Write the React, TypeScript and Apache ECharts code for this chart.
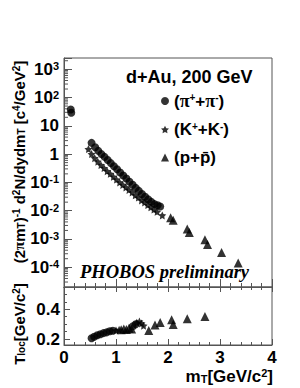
import React, { useEffect, useRef } from "react";
import * as echarts from "echarts";

// ---- data ----
// top panel: invariant yield vs m_T
const piSpectrum: [number, number][] = [
  [0.13, 38], [0.14, 29],
  [0.53, 2.5], [0.6, 1.75], [0.66, 1.3], [0.72, 1.0], [0.78, 0.8], [0.84, 0.62],
  [0.9, 0.48], [0.96, 0.37], [1.02, 0.29], [1.08, 0.225], [1.14, 0.175], [1.2, 0.137],
  [1.26, 0.106], [1.32, 0.083], [1.38, 0.064], [1.44, 0.05], [1.5, 0.039], [1.56, 0.031],
  [1.62, 0.025], [1.68, 0.0205], [1.74, 0.017], [1.8, 0.0155], [1.85, 0.014],
];
const kSpectrum: [number, number][] = [
  [0.47, 1.5], [0.53, 1.0], [0.59, 0.72], [0.65, 0.54], [0.71, 0.41], [0.77, 0.32],
  [0.83, 0.25], [0.89, 0.2], [0.95, 0.158], [1.01, 0.126], [1.07, 0.1], [1.13, 0.081],
  [1.19, 0.066], [1.25, 0.054], [1.31, 0.044], [1.37, 0.035], [1.43, 0.029], [1.49, 0.023],
  [1.55, 0.0195], [1.61, 0.0158], [1.67, 0.0132], [1.73, 0.011], [1.79, 0.0091], [1.89, 0.0068],
];
const pSpectrum: [number, number][] = [
  [2.05, 0.0056], [2.1, 0.0046], [2.37, 0.00225], [2.41, 0.0017],
  [2.71, 0.00094], [2.76, 0.00063], [3.03, 0.00033], [3.35, 0.00014],
];
// bottom panel: local slope T_loc vs m_T
const piLoc: [number, number][] = [
  [0.53, 0.205], [0.58, 0.215], [0.64, 0.225], [0.7, 0.232], [0.76, 0.24],
  [0.82, 0.245], [0.88, 0.252], [0.94, 0.256], [1.32, 0.285], [1.38, 0.3],
];
const kLoc: [number, number][] = [
  [1.0, 0.258], [1.06, 0.262], [1.4, 0.31], [1.45, 0.318], [1.49, 0.305], [1.53, 0.29],
];
const pLoc: [number, number][] = [
  [1.1, 0.262], [1.15, 0.268], [1.2, 0.265], [1.25, 0.272], [1.3, 0.268],
  [1.63, 0.258], [1.75, 0.295], [1.85, 0.312], [2.07, 0.33], [2.1, 0.298],
  [2.37, 0.337], [2.71, 0.352],
];
const seriesNames = ["pi", "K", "p"];
const legendLabels: Record<string, string> = {
  pi: "{t|(}{g|π}{s|+}{t|+}{g|π}{s|-}{t|)}",
  K: "{t|(K}{s|+}{t|+K}{s|-}{t|)}",
  p: "{t|(p+p\u0304)}",
};
const xTickLabels = ["0", "1", "2", "3", "4"];
const locTickLabels = [0.2, 0.4];

const SANS = "Liberation Sans";
const SERIF = "Liberation Serif";
const AX = "#555";
const STAR =
  "path://M0,-10 L2.94,-4.05 L9.51,-3.09 L4.76,1.55 L5.88,8.09 L0,5 L-5.88,8.09 L-4.76,1.55 L-9.51,-3.09 L-2.94,-4.05 Z";

const minorLogTicks: [number, number][] = [];
for (let e = -5; e <= 3; e++) {
  for (let k = 2; k <= 9; k++) {
    const v = k * Math.pow(10, e);
    if (v > 2e-5 && v < 2.5e3) minorLogTicks.push([0, v]);
  }
}

export default function App() {
  const ref = useRef<HTMLDivElement>(null);
  useEffect(() => {
    if (!ref.current) return;
    const chart = echarts.init(ref.current, undefined, { renderer: "svg" });
    const bold = { fontFamily: SANS, fontWeight: "bold" as const, color: "#000" };
    const supRich = {
      b: { ...bold, fontSize: 17 },
      s: { ...bold, fontSize: 11, verticalAlign: "top" as const },
    };
    const titleRich = {
      n: { ...bold, fontSize: 15 },
      sub: { ...bold, fontSize: 10, verticalAlign: "bottom" as const },
      sup: { ...bold, fontSize: 10, verticalAlign: "top" as const },
      g: { fontFamily: SERIF, fontWeight: "bold" as const, fontSize: 15, color: "#000" },
    };
    const xBase = {
      type: "value" as const,
      min: 0,
      max: 4,
      interval: 1,
      splitLine: { show: false },
      axisLine: { show: true, lineStyle: { color: AX, width: 1 } },
    };
    chart.setOption({
      animation: false,
      backgroundColor: "#fff",
      grid: [
        { left: 64, top: 58, width: 208, height: 229, show: true, borderColor: AX, borderWidth: 1 },
        { left: 64, top: 287, width: 208, height: 58, show: true, borderColor: AX, borderWidth: 1 },
      ],
      legend: {
        data: seriesNames,
        orient: "vertical",
        left: 161,
        top: 92,
        padding: 0,
        itemWidth: 8,
        itemHeight: 8,
        itemGap: 11,
        selectedMode: false,
        formatter: (name: string) => legendLabels[name],
        textStyle: {
          ...bold,
          fontSize: 17,
          rich: {
            t: { ...bold, fontSize: 17 },
            g: { fontFamily: SERIF, fontWeight: "bold", fontSize: 18, color: "#000" },
            s: { ...bold, fontSize: 10, verticalAlign: "top" },
          },
        },
      },
      xAxis: [
        {
          ...xBase,
          gridIndex: 0,
          axisTick: { show: true, inside: true, length: 8, lineStyle: { color: AX } },
          minorTick: { show: true, splitNumber: 5, length: 4, lineStyle: { color: AX } },
          axisLabel: { show: false },
        },
        {
          ...xBase,
          gridIndex: 1,
          axisTick: { show: true, inside: true, length: 6, lineStyle: { color: AX } },
          minorTick: { show: true, splitNumber: 5, length: 3, lineStyle: { color: AX } },
          axisLabel: {
            show: true,
            ...bold,
            fontSize: 17,
            margin: 4,
            formatter: (v: number) => xTickLabels[Math.round(v)] ?? "",
          },
        },
        {
          ...xBase,
          gridIndex: 1,
          position: "top",
          axisTick: { show: true, inside: true, length: 5, lineStyle: { color: AX } },
          minorTick: { show: true, splitNumber: 5, length: 3, lineStyle: { color: AX } },
          axisLabel: { show: false },
        },
      ],
      yAxis: [
        {
          gridIndex: 0,
          type: "log",
          min: 2e-5,
          max: 2.5e3,
          splitLine: { show: false },
          axisLine: { show: true, lineStyle: { color: AX } },
          axisTick: { show: true, inside: true, length: 8, lineStyle: { color: AX } },
          axisLabel: {
            ...bold,
            fontSize: 17,
            margin: 5,
            rich: supRich,
            formatter: (v: number) => {
              const l = Math.log10(v);
              const e = Math.round(l);
              if (Math.abs(l - e) > 1e-6) return "";
              if (e === 0) return "{b|1}";
              if (e === 1) return "{b|10}";
              return "{b|10}{s|" + e + "}";
            },
          },
        },
        {
          gridIndex: 1,
          type: "value",
          min: 0.16,
          max: 0.55,
          splitNumber: 2,
          splitLine: { show: false },
          axisLine: { show: true, lineStyle: { color: AX } },
          axisTick: { show: true, inside: true, length: 6, lineStyle: { color: AX } },
          minorTick: { show: true, splitNumber: 4, length: 3, lineStyle: { color: AX } },
          axisLabel: {
            ...bold,
            fontSize: 17,
            margin: 4,
            formatter: (v: number) =>
              locTickLabels.some((t) => Math.abs(t - v) < 1e-6) ? v.toFixed(1) : "",
          },
        },
      ],
      series: [
        { name: "pi", type: "scatter", xAxisIndex: 0, yAxisIndex: 0, data: piSpectrum, symbol: "circle", symbolSize: 8, itemStyle: { color: "#000" } },
        { name: "K", type: "scatter", xAxisIndex: 0, yAxisIndex: 0, data: kSpectrum, symbol: STAR, symbolSize: 8, itemStyle: { color: "#000" } },
        { name: "p", type: "scatter", xAxisIndex: 0, yAxisIndex: 0, data: pSpectrum, symbol: "triangle", symbolSize: 9, itemStyle: { color: "#000" } },
        { name: "pi", type: "scatter", xAxisIndex: 1, yAxisIndex: 1, data: piLoc, symbol: "circle", symbolSize: 8, itemStyle: { color: "#000" } },
        { name: "K", type: "scatter", xAxisIndex: 1, yAxisIndex: 1, data: kLoc, symbol: STAR, symbolSize: 8, itemStyle: { color: "#000" } },
        { name: "p", type: "scatter", xAxisIndex: 1, yAxisIndex: 1, data: pLoc, symbol: "triangle", symbolSize: 9, itemStyle: { color: "#000" } },
        {
          name: "minor",
          type: "custom",
          xAxisIndex: 0,
          yAxisIndex: 0,
          silent: true,
          clip: false,
          data: minorLogTicks,
          renderItem: (_p: any, api: any) => {
            const c = api.coord([0, api.value(1)]);
            return {
              type: "line",
              shape: { x1: c[0], y1: c[1], x2: c[0] + 4, y2: c[1] },
              style: { stroke: AX, lineWidth: 1 },
            };
          },
        },
      ],
      graphic: [
        {
          type: "text",
          x: 126,
          y: 77,
          style: { text: "d+Au, 200 GeV", font: `bold 18px "${SANS}"`, fill: "#000", verticalAlign: "middle" },
        },
        {
          type: "text",
          x: 80,
          y: 272,
          style: { text: "PHOBOS preliminary", font: `italic bold 18.5px "${SERIF}"`, fill: "#000", verticalAlign: "middle" },
        },
        {
          type: "text",
          x: 19,
          y: 162,
          rotation: Math.PI / 2,
          style: {
            text: "{n|(2}{g|π}{n|m}{sub|T}{n|)}{sup|-1}{n| d}{sup|2}{n|N/dydm}{sub|T}{n| [c}{sup|4}{n|/GeV}{sup|2}{n|]}",
            rich: titleRich,
            align: "center",
            verticalAlign: "middle",
          },
        },
        {
          type: "text",
          x: 19,
          y: 324,
          rotation: Math.PI / 2,
          style: {
            text: "{n|T}{sub|loc}{n|[GeV/c}{sup|2}{n|]}",
            rich: titleRich,
            align: "center",
            verticalAlign: "middle",
          },
        },
        {
          type: "text",
          x: 273,
          y: 376,
          style: {
            text: "{n|m}{sub|T}{n|[GeV/c}{sup|2}{n|]}",
            rich: {
              n: { ...bold, fontSize: 17 },
              sub: { ...bold, fontSize: 11, verticalAlign: "bottom" },
              sup: { ...bold, fontSize: 11, verticalAlign: "top" },
            },
            align: "right",
            verticalAlign: "middle",
          },
        },
      ],
    });
    return () => chart.dispose();
  }, []);
  return (
    <div
      ref={ref}
      style={{ position: "fixed", left: 0, top: 0, width: 300, height: 388, background: "#fff" }}
    />
  );
}
